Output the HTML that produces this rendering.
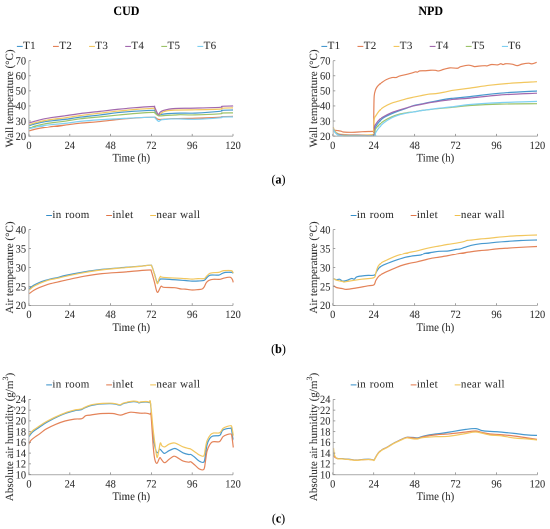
<!DOCTYPE html><html><head><meta charset="utf-8"><style>
html,body{margin:0;padding:0;background:#fff;width:550px;height:529px;overflow:hidden;position:relative}
#wrap{position:absolute;left:0;top:0;width:1100px;height:1058px;transform-origin:0 0;transform:scale(0.5);will-change:transform}
svg{display:block;filter:blur(0.5px)}
text{text-rendering:geometricPrecision}
text{font-family:"Liberation Serif", serif;fill:#303030;stroke:#303030;stroke-width:0.06px}
.tk{font-size:10.4px}
.lab{font-size:10.8px}
.ylab{font-size:11.05px}
.lg{font-size:11px;letter-spacing:0.3px;word-spacing:0.6px}
.ttl{font-size:12px;font-weight:bold;fill:#000}
.pl{font-size:12px;fill:#000}
</style></head><body>
<div id="wrap"><svg width="1100" height="1058" viewBox="0 0 550 529">
<rect width="550" height="529" fill="#fff"/>
<text transform="translate(126.40,14.80) scale(1,1.07)" text-anchor="middle" class="ttl">CUD</text>
<text transform="translate(430.70,14.80) scale(1,1.07)" text-anchor="middle" class="ttl">NPD</text>
<line x1="16.90" y1="46.40" x2="22.70" y2="46.40" stroke="#338eca" stroke-width="1"/>
<text transform="translate(23.10,48.90) scale(1,1.0)" class="lg">T1</text>
<line x1="53.00" y1="46.40" x2="58.80" y2="46.40" stroke="#e17547" stroke-width="1"/>
<text transform="translate(59.20,48.90) scale(1,1.0)" class="lg">T2</text>
<line x1="89.10" y1="46.40" x2="94.90" y2="46.40" stroke="#f1c14d" stroke-width="1"/>
<text transform="translate(95.30,48.90) scale(1,1.0)" class="lg">T3</text>
<line x1="125.20" y1="46.40" x2="131.00" y2="46.40" stroke="#9859a5" stroke-width="1"/>
<text transform="translate(131.40,48.90) scale(1,1.0)" class="lg">T4</text>
<line x1="161.30" y1="46.40" x2="167.10" y2="46.40" stroke="#92bd59" stroke-width="1"/>
<text transform="translate(167.50,48.90) scale(1,1.0)" class="lg">T5</text>
<line x1="197.40" y1="46.40" x2="203.20" y2="46.40" stroke="#71cbf1" stroke-width="1"/>
<text transform="translate(203.60,48.90) scale(1,1.0)" class="lg">T6</text>
<line x1="321.40" y1="46.40" x2="327.20" y2="46.40" stroke="#338eca" stroke-width="1"/>
<text transform="translate(327.60,48.90) scale(1,1.0)" class="lg">T1</text>
<line x1="357.50" y1="46.40" x2="363.30" y2="46.40" stroke="#e17547" stroke-width="1"/>
<text transform="translate(363.70,48.90) scale(1,1.0)" class="lg">T2</text>
<line x1="393.60" y1="46.40" x2="399.40" y2="46.40" stroke="#f1c14d" stroke-width="1"/>
<text transform="translate(399.80,48.90) scale(1,1.0)" class="lg">T3</text>
<line x1="429.70" y1="46.40" x2="435.50" y2="46.40" stroke="#9859a5" stroke-width="1"/>
<text transform="translate(435.90,48.90) scale(1,1.0)" class="lg">T4</text>
<line x1="465.80" y1="46.40" x2="471.60" y2="46.40" stroke="#92bd59" stroke-width="1"/>
<text transform="translate(472.00,48.90) scale(1,1.0)" class="lg">T5</text>
<line x1="501.90" y1="46.40" x2="507.70" y2="46.40" stroke="#71cbf1" stroke-width="1"/>
<text transform="translate(508.10,48.90) scale(1,1.0)" class="lg">T6</text>
<line x1="46.20" y1="215.50" x2="52.00" y2="215.50" stroke="#338eca" stroke-width="1"/>
<text transform="translate(52.40,218.00) scale(1,1.0)" class="lg">in room</text>
<line x1="106.20" y1="215.50" x2="112.00" y2="215.50" stroke="#e17547" stroke-width="1"/>
<text transform="translate(112.40,218.00) scale(1,1.0)" class="lg">inlet</text>
<line x1="150.20" y1="215.50" x2="156.00" y2="215.50" stroke="#f1c14d" stroke-width="1"/>
<text transform="translate(156.40,218.00) scale(1,1.0)" class="lg">near wall</text>
<line x1="350.70" y1="215.50" x2="356.50" y2="215.50" stroke="#338eca" stroke-width="1"/>
<text transform="translate(356.90,218.00) scale(1,1.0)" class="lg">in room</text>
<line x1="410.70" y1="215.50" x2="416.50" y2="215.50" stroke="#e17547" stroke-width="1"/>
<text transform="translate(416.90,218.00) scale(1,1.0)" class="lg">inlet</text>
<line x1="454.70" y1="215.50" x2="460.50" y2="215.50" stroke="#f1c14d" stroke-width="1"/>
<text transform="translate(460.90,218.00) scale(1,1.0)" class="lg">near wall</text>
<line x1="46.20" y1="384.90" x2="52.00" y2="384.90" stroke="#338eca" stroke-width="1"/>
<text transform="translate(52.40,387.40) scale(1,1.0)" class="lg">in room</text>
<line x1="106.20" y1="384.90" x2="112.00" y2="384.90" stroke="#e17547" stroke-width="1"/>
<text transform="translate(112.40,387.40) scale(1,1.0)" class="lg">inlet</text>
<line x1="150.20" y1="384.90" x2="156.00" y2="384.90" stroke="#f1c14d" stroke-width="1"/>
<text transform="translate(156.40,387.40) scale(1,1.0)" class="lg">near wall</text>
<line x1="350.70" y1="384.90" x2="356.50" y2="384.90" stroke="#338eca" stroke-width="1"/>
<text transform="translate(356.90,387.40) scale(1,1.0)" class="lg">in room</text>
<line x1="410.70" y1="384.90" x2="416.50" y2="384.90" stroke="#e17547" stroke-width="1"/>
<text transform="translate(416.90,387.40) scale(1,1.0)" class="lg">inlet</text>
<line x1="454.70" y1="384.90" x2="460.50" y2="384.90" stroke="#f1c14d" stroke-width="1"/>
<text transform="translate(460.90,387.40) scale(1,1.0)" class="lg">near wall</text>
<text transform="translate(13.20,98.40) scale(1,1.0) rotate(-90)" text-anchor="middle" class="ylab">Wall temperature (°C)</text>
<text transform="translate(317.20,98.40) scale(1,1.0) rotate(-90)" text-anchor="middle" class="ylab">Wall temperature (°C)</text>
<text transform="translate(13.20,267.50) scale(1,1.0) rotate(-90)" text-anchor="middle" class="ylab">Air temperature (°C)</text>
<text transform="translate(317.20,267.50) scale(1,1.0) rotate(-90)" text-anchor="middle" class="ylab">Air temperature (°C)</text>
<text transform="translate(13.20,437.00) scale(1,1.0) rotate(-90)" text-anchor="middle" class="ylab">Absolute air humidity (g/m<tspan dy="-5" font-size="8px">3</tspan><tspan dy="5">)</tspan></text>
<text transform="translate(317.20,437.00) scale(1,1.0) rotate(-90)" text-anchor="middle" class="ylab">Absolute air humidity (g/m<tspan dy="-5" font-size="8px">3</tspan><tspan dy="5">)</tspan></text>
<path d="M29.00,125.70 C30.17,125.37 33.33,124.37 36.00,123.70 C38.67,123.03 41.83,122.25 45.00,121.70 C48.17,121.15 51.67,120.78 55.00,120.40 C58.33,120.02 60.83,119.93 65.00,119.40 C69.17,118.87 74.17,117.94 80.00,117.20 C85.83,116.46 93.67,115.72 100.00,114.95 C106.33,114.18 112.17,113.20 118.00,112.58 C123.83,111.95 129.17,111.58 135.00,111.20 C140.83,110.82 149.75,110.40 153.00,110.30 C156.25,110.20 153.58,109.73 154.50,110.60 C155.42,111.47 157.58,114.82 158.50,115.50 C159.42,116.18 158.92,114.97 160.00,114.70 C161.08,114.43 163.33,114.10 165.00,113.90 C166.67,113.70 167.50,113.63 170.00,113.50 C172.50,113.37 175.83,113.17 180.00,113.10 C184.17,113.03 188.33,113.40 195.00,113.10 C201.67,112.80 215.50,111.77 220.00,111.30 C224.50,110.83 219.83,110.52 222.00,110.30 C224.17,110.08 231.17,110.05 233.00,110.00" fill="none" stroke="#4799cf" stroke-width="1.2" stroke-linejoin="round"/>
<path d="M29.00,130.90 C30.17,130.58 33.33,129.58 36.00,129.00 C38.67,128.42 41.83,127.87 45.00,127.40 C48.17,126.93 51.67,126.58 55.00,126.20 C58.33,125.82 60.83,125.60 65.00,125.10 C69.17,124.60 74.17,123.79 80.00,123.20 C85.83,122.61 93.67,122.17 100.00,121.55 C106.33,120.93 112.17,120.07 118.00,119.48 C123.83,118.89 129.17,118.38 135.00,118.00 C140.83,117.62 149.58,117.28 153.00,117.20 C156.42,117.12 154.83,117.23 155.50,117.50 C156.17,117.77 156.50,118.48 157.00,118.80 C157.50,119.12 157.83,119.30 158.50,119.40 C159.17,119.50 159.92,119.45 161.00,119.40 C162.08,119.35 162.67,119.23 165.00,119.10 C167.33,118.97 170.00,118.75 175.00,118.60 C180.00,118.45 187.50,118.43 195.00,118.20 C202.50,117.97 215.50,117.47 220.00,117.20 C224.50,116.93 219.83,116.73 222.00,116.60 C224.17,116.47 231.17,116.43 233.00,116.40" fill="none" stroke="#e48359" stroke-width="1.2" stroke-linejoin="round"/>
<path d="M29.00,124.70 C30.17,124.35 33.33,123.30 36.00,122.60 C38.67,121.90 41.83,121.10 45.00,120.50 C48.17,119.90 51.67,119.45 55.00,119.00 C58.33,118.55 60.83,118.37 65.00,117.80 C69.17,117.23 74.17,116.38 80.00,115.60 C85.83,114.82 93.67,113.90 100.00,113.15 C106.33,112.40 112.17,111.69 118.00,111.08 C123.83,110.47 129.17,109.96 135.00,109.50 C140.83,109.04 149.75,108.45 153.00,108.30 C156.25,108.15 153.58,107.57 154.50,108.60 C155.42,109.63 157.08,113.93 158.50,114.50 C159.92,115.07 161.42,112.65 163.00,112.00 C164.58,111.35 166.00,110.92 168.00,110.60 C170.00,110.28 170.50,110.23 175.00,110.10 C179.50,109.97 187.50,109.97 195.00,109.80 C202.50,109.63 215.50,109.37 220.00,109.10 C224.50,108.83 219.83,108.40 222.00,108.20 C224.17,108.00 231.17,107.95 233.00,107.90" fill="none" stroke="#f2c75e" stroke-width="1.2" stroke-linejoin="round"/>
<path d="M29.00,123.00 C30.17,122.65 33.33,121.62 36.00,120.90 C38.67,120.18 41.83,119.33 45.00,118.70 C48.17,118.07 51.67,117.58 55.00,117.10 C58.33,116.62 60.83,116.38 65.00,115.80 C69.17,115.22 74.17,114.34 80.00,113.60 C85.83,112.86 93.67,112.07 100.00,111.35 C106.33,110.63 112.17,109.89 118.00,109.28 C123.83,108.67 129.17,108.16 135.00,107.70 C140.83,107.24 149.75,106.62 153.00,106.50 C156.25,106.38 153.63,105.67 154.50,107.00 C155.37,108.33 157.28,113.62 158.20,114.50 C159.12,115.38 159.20,112.95 160.00,112.30 C160.80,111.65 161.67,111.10 163.00,110.60 C164.33,110.10 166.00,109.65 168.00,109.30 C170.00,108.95 170.50,108.70 175.00,108.50 C179.50,108.30 187.50,108.30 195.00,108.10 C202.50,107.90 215.50,107.60 220.00,107.30 C224.50,107.00 220.00,106.52 222.00,106.30 C224.00,106.08 230.17,106.07 232.00,106.00 C233.83,105.93 232.83,105.92 233.00,105.90" fill="none" stroke="#a269ae" stroke-width="1.2" stroke-linejoin="round"/>
<path d="M29.00,127.90 C30.17,127.55 33.33,126.48 36.00,125.80 C38.67,125.12 41.83,124.37 45.00,123.80 C48.17,123.23 51.67,122.83 55.00,122.40 C58.33,121.97 60.83,121.80 65.00,121.20 C69.17,120.60 74.17,119.53 80.00,118.80 C85.83,118.07 93.67,117.47 100.00,116.85 C106.33,116.23 112.17,115.64 118.00,115.08 C123.83,114.52 129.17,113.95 135.00,113.50 C140.83,113.05 149.75,112.53 153.00,112.40 C156.25,112.27 153.58,112.13 154.50,112.70 C155.42,113.27 156.75,115.33 158.50,115.80 C160.25,116.27 162.25,115.63 165.00,115.50 C167.75,115.37 172.50,115.13 175.00,115.00 C177.50,114.87 176.67,114.72 180.00,114.70 C183.33,114.68 188.33,115.05 195.00,114.90 C201.67,114.75 215.50,114.12 220.00,113.80 C224.50,113.48 219.83,113.15 222.00,113.00 C224.17,112.85 231.17,112.92 233.00,112.90" fill="none" stroke="#9dc36a" stroke-width="1.2" stroke-linejoin="round"/>
<path d="M29.00,128.80 C30.17,128.50 33.33,127.57 36.00,127.00 C38.67,126.43 41.83,125.85 45.00,125.40 C48.17,124.95 51.67,124.63 55.00,124.30 C58.33,123.97 60.83,123.88 65.00,123.40 C69.17,122.92 74.17,122.01 80.00,121.40 C85.83,120.79 93.67,120.19 100.00,119.75 C106.33,119.31 112.17,119.11 118.00,118.78 C123.83,118.45 129.17,118.06 135.00,117.80 C140.83,117.54 149.75,117.27 153.00,117.20 C156.25,117.13 153.58,116.72 154.50,117.40 C155.42,118.08 157.42,120.88 158.50,121.30 C159.58,121.72 159.92,120.22 161.00,119.90 C162.08,119.58 162.67,119.58 165.00,119.40 C167.33,119.22 170.00,118.82 175.00,118.80 C180.00,118.78 187.50,119.47 195.00,119.30 C202.50,119.13 215.50,118.18 220.00,117.80 C224.50,117.42 219.83,117.15 222.00,117.00 C224.17,116.85 231.17,116.92 233.00,116.90" fill="none" stroke="#7fd0f3" stroke-width="1.2" stroke-linejoin="round"/>
<path d="M333.50,129.20 C333.58,129.43 333.75,130.10 334.00,130.60 C334.25,131.10 334.67,131.75 335.00,132.20 C335.33,132.65 335.67,133.02 336.00,133.30 C336.33,133.58 336.67,133.70 337.00,133.90 C337.33,134.10 337.50,134.32 338.00,134.50 C338.50,134.68 339.33,134.87 340.00,135.00 C340.67,135.13 341.00,135.22 342.00,135.30 C343.00,135.38 343.00,135.47 346.00,135.50 C349.00,135.53 355.42,135.52 360.00,135.50 C364.58,135.48 371.08,136.42 373.50,135.40 C375.92,134.38 374.08,130.95 374.50,129.40 C374.92,127.85 375.12,127.48 376.00,126.10 C376.88,124.72 378.53,122.50 379.80,121.10 C381.07,119.70 381.70,118.90 383.60,117.70 C385.50,116.50 388.68,115.03 391.20,113.90 C393.72,112.77 396.18,111.83 398.70,110.90 C401.22,109.97 403.75,109.20 406.30,108.30 C408.85,107.40 411.50,106.22 414.00,105.50 C416.50,104.78 418.88,104.50 421.30,104.00 C423.72,103.50 426.08,102.98 428.50,102.50 C430.92,102.02 433.37,101.58 435.80,101.10 C438.23,100.62 440.67,100.03 443.10,99.60 C445.53,99.17 448.58,98.73 450.40,98.50 C452.22,98.27 450.73,98.52 454.00,98.20 C457.27,97.88 462.33,97.43 470.00,96.60 C477.67,95.77 488.83,94.13 500.00,93.20 C511.17,92.27 530.83,91.37 537.00,91.00" fill="none" stroke="#4799cf" stroke-width="1.2" stroke-linejoin="round"/>
<path d="M333.40,129.60 C333.63,129.70 334.03,130.03 334.80,130.20 C335.57,130.37 336.93,130.43 338.00,130.60 C339.07,130.77 340.33,130.97 341.20,131.20 C342.07,131.43 341.40,131.82 343.20,132.00 C345.00,132.18 348.75,132.35 352.00,132.30 C355.25,132.25 359.28,131.85 362.70,131.70 C366.12,131.55 370.68,131.50 372.50,131.40 C374.32,131.30 373.38,134.33 373.60,131.10 C373.82,127.87 373.70,117.85 373.80,112.00 C373.90,106.15 373.92,99.67 374.20,96.00 C374.48,92.33 375.03,91.50 375.50,90.00 C375.97,88.50 376.42,87.87 377.00,87.00 C377.58,86.13 378.27,85.50 379.00,84.80 C379.73,84.10 380.18,83.66 381.40,82.80 C382.62,81.94 384.53,80.50 386.30,79.63 C388.07,78.76 390.37,77.94 392.00,77.58 C393.63,77.22 394.87,77.75 396.10,77.50 C397.33,77.25 397.77,76.57 399.40,76.07 C401.03,75.57 403.72,75.07 405.90,74.52 C408.08,73.97 410.87,73.25 412.50,72.79 C414.13,72.34 414.88,71.89 415.70,71.79 C416.52,71.69 416.72,72.32 417.40,72.17 C418.08,72.02 418.43,71.13 419.80,70.89 C421.17,70.65 423.82,70.83 425.60,70.72 C427.38,70.61 428.87,70.29 430.50,70.22 C432.13,70.15 434.03,70.18 435.40,70.29 C436.77,70.41 437.33,71.06 438.70,70.91 C440.07,70.76 441.70,69.89 443.60,69.38 C445.50,68.87 447.80,68.03 450.10,67.84 C452.40,67.65 455.65,68.46 457.40,68.26 C459.15,68.06 458.70,67.19 460.60,66.67 C462.50,66.16 466.48,65.18 468.80,65.17 C471.12,65.16 472.87,66.44 474.50,66.60 C476.13,66.75 476.82,66.25 478.60,66.10 C480.38,65.95 483.83,65.74 485.20,65.71 C486.57,65.67 485.72,66.09 486.80,65.89 C487.88,65.69 489.92,64.69 491.70,64.52 C493.48,64.35 496.00,65.03 497.50,64.90 C499.00,64.77 499.75,63.82 500.70,63.76 C501.65,63.70 502.38,64.55 503.20,64.55 C504.02,64.55 504.10,63.79 505.60,63.73 C507.10,63.67 510.28,63.88 512.20,64.20 C514.12,64.52 515.47,65.67 517.10,65.65 C518.73,65.64 520.08,64.52 522.00,64.11 C523.92,63.70 526.97,63.25 528.60,63.20 C530.23,63.16 530.45,63.99 531.80,63.84 C533.15,63.69 535.88,62.56 536.70,62.30" fill="none" stroke="#e48359" stroke-width="1.2" stroke-linejoin="round"/>
<path d="M333.30,127.00 C333.42,127.38 333.72,128.63 334.00,129.30 C334.28,129.97 334.67,130.52 335.00,131.00 C335.33,131.48 335.67,131.87 336.00,132.20 C336.33,132.53 336.67,132.77 337.00,133.00 C337.33,133.23 337.50,133.42 338.00,133.60 C338.50,133.78 339.33,133.97 340.00,134.10 C340.67,134.23 341.00,134.32 342.00,134.40 C343.00,134.48 344.33,134.53 346.00,134.60 C347.67,134.67 347.58,134.80 352.00,134.80 C356.42,134.80 368.87,135.40 372.50,134.60 C376.13,133.80 373.50,132.60 373.80,130.00 C374.10,127.40 373.93,121.42 374.30,119.00 C374.67,116.58 375.08,116.97 376.00,115.50 C376.92,114.03 378.53,111.60 379.80,110.20 C381.07,108.80 381.70,108.25 383.60,107.10 C385.50,105.95 388.68,104.30 391.20,103.30 C393.72,102.30 396.18,101.85 398.70,101.10 C401.22,100.35 403.75,99.47 406.30,98.80 C408.85,98.13 411.50,97.63 414.00,97.10 C416.50,96.57 418.88,96.08 421.30,95.60 C423.72,95.12 426.08,94.53 428.50,94.20 C430.92,93.87 433.37,93.90 435.80,93.60 C438.23,93.30 440.67,92.87 443.10,92.40 C445.53,91.93 448.58,91.17 450.40,90.80 C452.22,90.43 450.73,90.65 454.00,90.20 C457.27,89.75 464.00,88.93 470.00,88.10 C476.00,87.27 483.33,86.00 490.00,85.20 C496.67,84.40 502.17,83.88 510.00,83.30 C517.83,82.72 532.50,81.97 537.00,81.70" fill="none" stroke="#f2c75e" stroke-width="1.2" stroke-linejoin="round"/>
<path d="M333.50,129.00 C333.58,129.23 333.75,129.90 334.00,130.40 C334.25,130.90 334.67,131.55 335.00,132.00 C335.33,132.45 335.67,132.83 336.00,133.10 C336.33,133.37 336.67,133.42 337.00,133.60 C337.33,133.78 337.50,134.02 338.00,134.20 C338.50,134.38 339.33,134.57 340.00,134.70 C340.67,134.83 341.00,134.92 342.00,135.00 C343.00,135.08 343.00,135.17 346.00,135.20 C349.00,135.23 355.42,135.22 360.00,135.20 C364.58,135.18 371.08,136.50 373.50,135.10 C375.92,133.70 374.08,128.68 374.50,126.80 C374.92,124.92 375.12,125.07 376.00,123.80 C376.88,122.53 378.53,120.40 379.80,119.20 C381.07,118.00 381.70,117.67 383.60,116.60 C385.50,115.53 388.68,113.87 391.20,112.80 C393.72,111.73 396.18,111.02 398.70,110.20 C401.22,109.38 403.75,108.63 406.30,107.90 C408.85,107.17 411.50,106.38 414.00,105.80 C416.50,105.22 418.88,104.88 421.30,104.40 C423.72,103.92 426.08,103.33 428.50,102.90 C430.92,102.47 433.37,102.17 435.80,101.80 C438.23,101.43 440.67,101.03 443.10,100.70 C445.53,100.37 448.58,100.03 450.40,99.80 C452.22,99.57 450.73,99.58 454.00,99.30 C457.27,99.02 462.33,98.82 470.00,98.10 C477.67,97.38 488.83,95.82 500.00,95.00 C511.17,94.18 530.83,93.50 537.00,93.20" fill="none" stroke="#a269ae" stroke-width="1.2" stroke-linejoin="round"/>
<path d="M333.50,129.20 C333.58,129.43 333.75,130.10 334.00,130.60 C334.25,131.10 334.67,131.75 335.00,132.20 C335.33,132.65 335.67,132.98 336.00,133.30 C336.33,133.62 336.67,133.91 337.00,134.15 C337.33,134.39 337.50,134.57 338.00,134.75 C338.50,134.93 339.33,135.12 340.00,135.25 C340.67,135.38 341.00,135.47 342.00,135.55 C343.00,135.63 343.00,135.72 346.00,135.75 C349.00,135.78 355.33,135.77 360.00,135.75 C364.67,135.73 371.50,136.44 374.00,135.65 C376.50,134.86 374.67,132.22 375.00,131.00 C375.33,129.78 375.20,129.43 376.00,128.30 C376.80,127.17 378.53,125.40 379.80,124.20 C381.07,123.00 381.70,122.30 383.60,121.10 C385.50,119.90 388.68,118.13 391.20,117.00 C393.72,115.87 396.18,115.00 398.70,114.30 C401.22,113.60 403.75,113.22 406.30,112.80 C408.85,112.38 411.50,112.18 414.00,111.80 C416.50,111.42 418.88,110.85 421.30,110.50 C423.72,110.15 426.08,109.98 428.50,109.70 C430.92,109.42 433.37,109.05 435.80,108.80 C438.23,108.55 440.67,108.42 443.10,108.20 C445.53,107.98 448.58,107.68 450.40,107.50 C452.22,107.32 450.73,107.43 454.00,107.10 C457.27,106.77 462.33,106.00 470.00,105.50 C477.67,105.00 488.83,104.40 500.00,104.10 C511.17,103.80 530.83,103.77 537.00,103.70" fill="none" stroke="#9dc36a" stroke-width="1.2" stroke-linejoin="round"/>
<path d="M333.50,129.40 C333.58,129.63 333.75,130.30 334.00,130.80 C334.25,131.30 334.67,131.95 335.00,132.40 C335.33,132.85 335.67,133.17 336.00,133.50 C336.33,133.83 336.67,134.15 337.00,134.40 C337.33,134.65 337.50,134.82 338.00,135.00 C338.50,135.18 339.33,135.37 340.00,135.50 C340.67,135.63 341.00,135.72 342.00,135.80 C343.00,135.88 343.00,135.97 346.00,136.00 C349.00,136.03 355.25,136.02 360.00,136.00 C364.75,135.98 371.97,136.15 374.50,135.90 C377.03,135.65 374.95,135.13 375.20,134.50 C375.45,133.87 375.23,133.38 376.00,132.10 C376.77,130.82 378.53,128.32 379.80,126.80 C381.07,125.28 381.70,124.45 383.60,123.00 C385.50,121.55 388.68,119.42 391.20,118.10 C393.72,116.78 396.18,115.92 398.70,115.10 C401.22,114.28 403.75,113.73 406.30,113.20 C408.85,112.67 411.50,112.33 414.00,111.90 C416.50,111.47 418.88,110.98 421.30,110.60 C423.72,110.22 426.08,109.93 428.50,109.60 C430.92,109.27 433.37,108.90 435.80,108.60 C438.23,108.30 440.67,108.07 443.10,107.80 C445.53,107.53 448.58,107.20 450.40,107.00 C452.22,106.80 450.73,107.02 454.00,106.60 C457.27,106.18 462.33,105.17 470.00,104.50 C477.67,103.83 488.83,103.12 500.00,102.60 C511.17,102.08 530.83,101.60 537.00,101.40" fill="none" stroke="#7fd0f3" stroke-width="1.2" stroke-linejoin="round"/>
<path d="M29.00,289.00 C29.12,288.87 28.92,288.82 29.70,288.20 C30.48,287.58 32.10,286.25 33.70,285.30 C35.30,284.35 37.42,283.30 39.30,282.50 C41.18,281.70 43.10,281.08 45.00,280.50 C46.90,279.92 48.53,279.52 50.70,279.00 C52.87,278.48 55.62,277.98 58.00,277.40 C60.38,276.82 60.72,276.40 65.00,275.50 C69.28,274.60 77.53,273.02 83.70,272.00 C89.87,270.98 95.12,270.17 102.00,269.40 C108.88,268.63 118.67,267.93 125.00,267.40 C131.33,266.87 135.83,266.57 140.00,266.20 C144.17,265.83 148.03,265.23 150.00,265.20 C151.97,265.17 151.05,264.53 151.80,266.00 C152.55,267.47 153.58,271.28 154.50,274.00 C155.42,276.72 156.38,281.38 157.30,282.30 C158.22,283.22 159.05,280.05 160.00,279.50 C160.95,278.95 158.83,278.83 163.00,279.00 C167.17,279.17 180.17,280.15 185.00,280.50 C189.83,280.85 189.83,281.02 192.00,281.10 C194.17,281.18 195.97,281.13 198.00,281.00 C200.03,280.87 202.70,280.88 204.20,280.30 C205.70,279.72 205.97,278.37 207.00,277.50 C208.03,276.63 208.45,275.50 210.40,275.10 C212.35,274.70 216.73,275.38 218.70,275.10 C220.67,274.82 221.05,273.85 222.20,273.40 C223.35,272.95 223.98,272.57 225.60,272.40 C227.22,272.23 230.63,272.23 231.90,272.40 C233.17,272.57 232.98,273.23 233.20,273.40" fill="none" stroke="#4799cf" stroke-width="1.2" stroke-linejoin="round"/>
<path d="M29.00,293.80 C29.12,293.72 28.92,293.87 29.70,293.30 C30.48,292.73 32.10,291.35 33.70,290.40 C35.30,289.45 37.42,288.43 39.30,287.60 C41.18,286.77 43.10,286.07 45.00,285.40 C46.90,284.73 48.53,284.18 50.70,283.60 C52.87,283.02 55.62,282.45 58.00,281.90 C60.38,281.35 60.72,281.23 65.00,280.30 C69.28,279.37 77.53,277.42 83.70,276.30 C89.87,275.18 95.12,274.32 102.00,273.60 C108.88,272.88 118.67,272.50 125.00,272.00 C131.33,271.50 135.83,270.93 140.00,270.60 C144.17,270.27 148.10,269.87 150.00,270.00 C151.90,270.13 150.65,269.35 151.40,271.40 C152.15,273.45 153.52,278.82 154.50,282.30 C155.48,285.78 156.22,291.62 157.30,292.30 C158.38,292.98 159.95,287.23 161.00,286.40 C162.05,285.57 161.35,287.08 163.60,287.30 C165.85,287.52 171.60,287.42 174.50,287.70 C177.40,287.98 179.25,288.77 181.00,289.00 C182.75,289.23 183.17,288.93 185.00,289.10 C186.83,289.27 189.83,289.92 192.00,290.00 C194.17,290.08 196.32,289.77 198.00,289.60 C199.68,289.43 201.07,289.45 202.10,289.00 C203.13,288.55 203.50,287.95 204.20,286.90 C204.90,285.85 205.48,283.80 206.30,282.70 C207.12,281.60 207.95,280.87 209.10,280.30 C210.25,279.73 211.37,279.47 213.20,279.30 C215.03,279.13 218.37,279.48 220.10,279.30 C221.83,279.12 222.10,278.55 223.60,278.20 C225.10,277.85 227.83,277.27 229.10,277.20 C230.37,277.13 230.62,277.33 231.20,277.80 C231.78,278.27 232.27,279.23 232.60,280.00 C232.93,280.77 233.10,282.00 233.20,282.40" fill="none" stroke="#e48359" stroke-width="1.2" stroke-linejoin="round"/>
<path d="M29.00,290.30 C29.12,290.18 28.92,290.25 29.70,289.60 C30.48,288.95 32.10,287.40 33.70,286.40 C35.30,285.40 37.42,284.45 39.30,283.60 C41.18,282.75 43.10,281.97 45.00,281.30 C46.90,280.63 48.53,280.12 50.70,279.60 C52.87,279.08 55.62,278.73 58.00,278.20 C60.38,277.67 60.72,277.32 65.00,276.40 C69.28,275.48 77.53,273.78 83.70,272.70 C89.87,271.62 95.12,270.73 102.00,269.90 C108.88,269.07 118.67,268.28 125.00,267.70 C131.33,267.12 135.83,266.82 140.00,266.40 C144.17,265.98 148.03,265.20 150.00,265.20 C151.97,265.20 151.05,264.85 151.80,266.40 C152.55,267.95 153.58,271.63 154.50,274.50 C155.42,277.37 156.55,282.85 157.30,283.60 C158.05,284.35 158.47,280.20 159.00,279.00 C159.53,277.80 159.83,276.68 160.50,276.40 C161.17,276.12 158.92,276.93 163.00,277.30 C167.08,277.67 180.17,278.30 185.00,278.60 C189.83,278.90 189.83,279.10 192.00,279.10 C194.17,279.10 195.97,278.68 198.00,278.60 C200.03,278.52 202.82,278.95 204.20,278.60 C205.58,278.25 205.38,277.37 206.30,276.50 C207.22,275.63 208.55,274.03 209.70,273.40 C210.85,272.77 211.70,272.87 213.20,272.70 C214.70,272.53 217.32,272.63 218.70,272.40 C220.08,272.17 220.57,271.60 221.50,271.30 C222.43,271.00 222.68,270.72 224.30,270.60 C225.92,270.48 229.82,270.42 231.20,270.60 C232.58,270.78 232.27,271.30 232.60,271.70 C232.93,272.10 233.10,272.78 233.20,273.00" fill="none" stroke="#f2c75e" stroke-width="1.2" stroke-linejoin="round"/>
<path d="M333.50,278.50 C333.98,278.72 335.40,279.68 336.40,279.80 C337.40,279.92 338.45,278.98 339.50,279.20 C340.55,279.42 341.53,280.88 342.70,281.10 C343.87,281.32 345.02,280.93 346.50,280.50 C347.98,280.07 350.32,278.72 351.60,278.50 C352.88,278.28 353.35,279.47 354.20,279.20 C355.05,278.93 355.43,277.43 356.70,276.90 C357.97,276.37 359.88,276.25 361.80,276.00 C363.72,275.75 366.08,275.55 368.20,275.40 C370.32,275.25 373.08,275.78 374.50,275.10 C375.92,274.42 375.85,272.60 376.70,271.30 C377.55,270.00 378.50,268.33 379.60,267.30 C380.70,266.27 381.48,265.95 383.30,265.10 C385.12,264.25 388.08,263.12 390.50,262.20 C392.92,261.28 395.37,260.42 397.80,259.60 C400.23,258.78 402.90,257.87 405.10,257.30 C407.30,256.73 408.97,256.52 411.00,256.20 C413.03,255.88 415.65,255.62 417.30,255.40 C418.95,255.18 419.70,255.22 420.90,254.90 C422.10,254.58 422.68,253.92 424.50,253.50 C426.32,253.08 429.37,252.77 431.80,252.40 C434.23,252.03 436.40,251.53 439.10,251.30 C441.80,251.07 445.18,251.32 448.00,251.00 C450.82,250.68 454.00,249.73 456.00,249.40 C458.00,249.07 458.67,249.30 460.00,249.00 C461.33,248.70 462.00,248.23 464.00,247.60 C466.00,246.97 469.33,245.83 472.00,245.20 C474.67,244.57 477.33,244.13 480.00,243.80 C482.67,243.47 485.42,243.45 488.00,243.20 C490.58,242.95 492.13,242.60 495.50,242.30 C498.87,242.00 503.97,241.70 508.20,241.40 C512.43,241.10 516.10,240.73 520.90,240.50 C525.70,240.27 534.32,240.08 537.00,240.00" fill="none" stroke="#4799cf" stroke-width="1.2" stroke-linejoin="round"/>
<path d="M333.50,285.50 C333.98,285.83 334.87,286.97 336.40,287.50 C337.93,288.03 341.02,288.38 342.70,288.70 C344.38,289.02 344.37,289.50 346.50,289.40 C348.63,289.30 351.88,288.70 355.50,288.10 C359.12,287.50 365.13,286.33 368.20,285.80 C371.27,285.27 372.63,285.78 373.90,284.90 C375.17,284.02 375.05,281.88 375.80,280.50 C376.55,279.12 377.52,277.60 378.40,276.60 C379.28,275.60 379.68,275.33 381.10,274.50 C382.52,273.67 384.72,272.62 386.90,271.60 C389.08,270.58 391.77,269.42 394.20,268.40 C396.63,267.38 399.08,266.32 401.50,265.50 C403.92,264.68 406.07,264.12 408.70,263.50 C411.33,262.88 414.67,262.38 417.30,261.80 C419.93,261.22 422.08,260.60 424.50,260.00 C426.92,259.40 429.37,258.68 431.80,258.20 C434.23,257.72 436.40,257.53 439.10,257.10 C441.80,256.67 445.18,256.12 448.00,255.60 C450.82,255.08 453.33,254.47 456.00,254.00 C458.67,253.53 461.33,253.20 464.00,252.80 C466.67,252.40 469.33,251.97 472.00,251.60 C474.67,251.23 477.33,250.87 480.00,250.60 C482.67,250.33 485.42,250.27 488.00,250.00 C490.58,249.73 492.13,249.32 495.50,249.00 C498.87,248.68 503.97,248.38 508.20,248.10 C512.43,247.82 516.10,247.57 520.90,247.30 C525.70,247.03 534.32,246.63 537.00,246.50" fill="none" stroke="#e48359" stroke-width="1.2" stroke-linejoin="round"/>
<path d="M333.50,278.50 C333.98,278.78 334.87,279.70 336.40,280.20 C337.93,280.70 341.43,281.20 342.70,281.50 C343.97,281.80 342.93,282.07 344.00,282.00 C345.07,281.93 346.13,281.57 349.10,281.10 C352.07,280.63 357.67,279.77 361.80,279.20 C365.93,278.63 371.57,278.77 373.90,277.70 C376.23,276.63 375.08,274.72 375.80,272.80 C376.52,270.88 377.20,267.92 378.20,266.20 C379.20,264.48 380.35,263.53 381.80,262.50 C383.25,261.47 384.83,260.97 386.90,260.00 C388.97,259.03 391.77,257.67 394.20,256.70 C396.63,255.73 399.08,254.88 401.50,254.20 C403.92,253.52 406.07,253.17 408.70,252.60 C411.33,252.03 414.67,251.42 417.30,250.80 C419.93,250.18 422.08,249.48 424.50,248.90 C426.92,248.32 429.37,247.78 431.80,247.30 C434.23,246.82 436.40,246.48 439.10,246.00 C441.80,245.52 445.18,244.87 448.00,244.40 C450.82,243.93 453.33,243.67 456.00,243.20 C458.67,242.73 462.13,242.07 464.00,241.60 C465.87,241.13 465.87,240.67 467.20,240.40 C468.53,240.13 469.87,240.23 472.00,240.00 C474.13,239.77 477.33,239.27 480.00,239.00 C482.67,238.73 485.42,238.65 488.00,238.40 C490.58,238.15 492.13,237.85 495.50,237.50 C498.87,237.15 503.97,236.62 508.20,236.30 C512.43,235.98 516.10,235.82 520.90,235.60 C525.70,235.38 534.32,235.10 537.00,235.00" fill="none" stroke="#f2c75e" stroke-width="1.2" stroke-linejoin="round"/>
<path d="M29.00,436.70 C29.30,436.25 30.03,434.92 30.80,434.00 C31.57,433.08 32.23,432.28 33.60,431.20 C34.97,430.12 37.43,428.58 39.00,427.50 C40.57,426.42 41.75,425.53 43.00,424.70 C44.25,423.87 44.37,423.68 46.50,422.50 C48.63,421.32 52.72,419.08 55.80,417.60 C58.88,416.12 61.90,414.73 65.00,413.60 C68.10,412.47 72.23,411.37 74.40,410.80 C76.57,410.23 76.77,410.42 78.00,410.20 C79.23,409.98 80.85,409.80 81.80,409.50 C82.75,409.20 82.33,409.02 83.70,408.40 C85.07,407.78 87.88,406.45 90.00,405.80 C92.12,405.15 94.28,404.82 96.40,404.50 C98.52,404.18 100.37,404.03 102.70,403.90 C105.03,403.77 108.27,403.65 110.40,403.70 C112.53,403.75 113.92,403.95 115.50,404.20 C117.08,404.45 118.63,405.28 119.90,405.20 C121.17,405.12 121.72,404.17 123.10,403.70 C124.48,403.23 126.50,402.75 128.20,402.40 C129.90,402.05 131.82,401.67 133.30,401.60 C134.78,401.53 136.15,401.78 137.10,402.00 C138.05,402.22 138.37,402.83 139.00,402.90 C139.63,402.97 139.73,402.55 140.90,402.40 C142.07,402.25 144.62,401.97 146.00,402.00 C147.38,402.03 148.45,402.38 149.20,402.60 C149.95,402.82 149.93,398.73 150.50,403.30 C151.07,407.87 151.88,422.82 152.60,430.00 C153.32,437.18 154.15,442.77 154.80,446.40 C155.45,450.03 155.95,450.80 156.50,451.80 C157.05,452.80 157.57,452.85 158.10,452.40 C158.63,451.95 158.98,449.20 159.70,449.10 C160.42,449.00 161.58,451.08 162.40,451.80 C163.22,452.52 163.50,453.58 164.60,453.40 C165.70,453.22 167.37,451.52 169.00,450.70 C170.63,449.88 172.95,448.68 174.40,448.50 C175.85,448.32 176.23,448.87 177.70,449.60 C179.17,450.33 181.38,452.08 183.20,452.90 C185.02,453.72 187.33,454.23 188.60,454.50 C189.87,454.77 189.88,454.13 190.80,454.50 C191.72,454.87 192.70,455.60 194.10,456.70 C195.50,457.80 197.58,460.20 199.20,461.10 C200.82,462.00 202.77,463.07 203.80,462.10 C204.83,461.13 204.87,458.15 205.40,455.30 C205.93,452.45 206.30,447.77 207.00,445.00 C207.70,442.23 208.65,440.18 209.60,438.70 C210.55,437.22 211.15,436.62 212.70,436.10 C214.25,435.58 217.60,435.85 218.90,435.60 C220.20,435.35 219.90,435.47 220.50,434.60 C221.10,433.73 221.55,431.37 222.50,430.40 C223.45,429.43 224.90,429.15 226.20,428.80 C227.50,428.45 229.43,428.30 230.30,428.30 C231.17,428.30 230.97,427.07 231.40,428.80 C231.83,430.53 232.58,436.97 232.90,438.70 C233.22,440.43 233.23,439.12 233.30,439.20" fill="none" stroke="#4799cf" stroke-width="1.2" stroke-linejoin="round"/>
<path d="M29.00,444.20 C29.30,443.58 29.73,441.75 30.80,440.50 C31.87,439.25 34.03,437.73 35.40,436.70 C36.77,435.67 37.73,435.22 39.00,434.30 C40.27,433.38 41.75,432.12 43.00,431.20 C44.25,430.28 44.37,429.95 46.50,428.80 C48.63,427.65 52.72,425.60 55.80,424.30 C58.88,423.00 61.90,421.87 65.00,421.00 C68.10,420.13 71.60,419.48 74.40,419.10 C77.20,418.72 79.95,419.25 81.80,418.70 C83.65,418.15 84.13,416.40 85.50,415.80 C86.87,415.20 88.18,415.38 90.00,415.10 C91.82,414.82 94.28,414.37 96.40,414.10 C98.52,413.83 99.95,413.60 102.70,413.50 C105.45,413.40 109.93,413.23 112.90,413.50 C115.87,413.77 118.38,415.10 120.50,415.10 C122.62,415.10 123.90,413.98 125.60,413.50 C127.30,413.02 129.00,412.35 130.70,412.20 C132.40,412.05 134.10,412.43 135.80,412.60 C137.50,412.77 139.20,413.10 140.90,413.20 C142.60,413.30 144.52,413.05 146.00,413.20 C147.48,413.35 148.95,413.63 149.80,414.10 C150.65,414.57 150.53,410.62 151.10,416.00 C151.67,421.38 152.58,439.17 153.20,446.40 C153.82,453.63 154.17,456.58 154.80,459.40 C155.43,462.22 156.18,463.57 157.00,463.30 C157.82,463.03 158.97,458.45 159.70,457.80 C160.43,457.15 160.58,458.58 161.40,459.40 C162.22,460.22 163.33,462.70 164.60,462.70 C165.87,462.70 167.45,460.48 169.00,459.40 C170.55,458.32 172.45,456.47 173.90,456.20 C175.35,455.93 176.15,456.98 177.70,457.80 C179.25,458.62 181.38,460.37 183.20,461.10 C185.02,461.83 187.33,462.08 188.60,462.20 C189.87,462.32 189.73,461.30 190.80,461.80 C191.87,462.30 193.60,464.02 195.00,465.20 C196.40,466.38 197.73,468.20 199.20,468.90 C200.67,469.60 202.77,470.62 203.80,469.40 C204.83,468.18 204.87,464.63 205.40,461.60 C205.93,458.57 206.30,453.98 207.00,451.20 C207.70,448.42 208.65,446.47 209.60,444.90 C210.55,443.33 211.15,442.32 212.70,441.80 C214.25,441.28 217.52,442.13 218.90,441.80 C220.28,441.47 220.30,440.67 221.00,439.80 C221.70,438.93 222.07,437.47 223.10,436.60 C224.13,435.73 225.90,435.03 227.20,434.60 C228.50,434.17 230.12,433.67 230.90,434.00 C231.68,434.33 231.50,434.35 231.90,436.60 C232.30,438.85 233.07,445.68 233.30,447.50" fill="none" stroke="#e48359" stroke-width="1.2" stroke-linejoin="round"/>
<path d="M29.00,435.20 C29.30,434.77 30.03,433.48 30.80,432.60 C31.57,431.72 32.23,430.95 33.60,429.90 C34.97,428.85 37.43,427.35 39.00,426.30 C40.57,425.25 41.75,424.40 43.00,423.60 C44.25,422.80 44.37,422.63 46.50,421.50 C48.63,420.37 52.72,418.23 55.80,416.80 C58.88,415.37 61.90,414.02 65.00,412.90 C68.10,411.78 72.23,410.67 74.40,410.10 C76.57,409.53 76.77,409.72 78.00,409.50 C79.23,409.28 80.85,409.08 81.80,408.80 C82.75,408.52 82.33,408.40 83.70,407.80 C85.07,407.20 87.88,405.83 90.00,405.20 C92.12,404.57 94.28,404.30 96.40,404.00 C98.52,403.70 100.37,403.53 102.70,403.40 C105.03,403.27 108.27,403.15 110.40,403.20 C112.53,403.25 113.92,403.45 115.50,403.70 C117.08,403.95 118.63,404.78 119.90,404.70 C121.17,404.62 121.72,403.67 123.10,403.20 C124.48,402.73 126.50,402.25 128.20,401.90 C129.90,401.55 131.82,401.17 133.30,401.10 C134.78,401.03 136.15,401.28 137.10,401.50 C138.05,401.72 138.37,402.33 139.00,402.40 C139.63,402.47 139.73,402.05 140.90,401.90 C142.07,401.75 144.62,401.47 146.00,401.50 C147.38,401.53 148.45,401.88 149.20,402.10 C149.95,402.32 149.83,398.15 150.50,402.80 C151.17,407.45 152.38,422.55 153.20,430.00 C154.02,437.45 154.77,442.95 155.40,447.50 C156.03,452.05 156.47,456.58 157.00,457.30 C157.53,458.02 158.05,454.17 158.60,451.80 C159.15,449.43 159.75,444.10 160.30,443.10 C160.85,442.10 161.18,445.17 161.90,445.80 C162.62,446.43 163.42,447.17 164.60,446.90 C165.78,446.63 167.45,444.87 169.00,444.20 C170.55,443.53 172.45,442.90 173.90,442.90 C175.35,442.90 176.15,443.53 177.70,444.20 C179.25,444.87 181.38,446.18 183.20,446.90 C185.02,447.62 187.33,448.13 188.60,448.50 C189.87,448.87 189.52,448.37 190.80,449.10 C192.08,449.83 194.85,451.90 196.30,452.90 C197.75,453.90 198.25,454.60 199.50,455.10 C200.75,455.60 202.82,457.07 203.80,455.90 C204.78,454.73 204.87,450.62 205.40,448.10 C205.93,445.58 206.13,443.05 207.00,440.80 C207.87,438.55 209.48,435.90 210.60,434.60 C211.72,433.30 212.32,433.27 213.70,433.00 C215.08,432.73 217.68,433.27 218.90,433.00 C220.12,432.73 220.30,432.18 221.00,431.40 C221.70,430.62 222.07,429.13 223.10,428.30 C224.13,427.47 225.90,426.83 227.20,426.40 C228.50,425.97 230.12,425.55 230.90,425.70 C231.68,425.85 231.50,425.65 231.90,427.30 C232.30,428.95 233.07,434.22 233.30,435.60" fill="none" stroke="#f2c75e" stroke-width="1.2" stroke-linejoin="round"/>
<path d="M333.50,454.00 C333.75,454.50 334.25,456.23 335.00,457.00 C335.75,457.77 336.83,458.33 338.00,458.60 C339.17,458.87 340.00,458.47 342.00,458.60 C344.00,458.73 347.67,459.17 350.00,459.40 C352.33,459.63 353.67,460.00 356.00,460.00 C358.33,460.00 361.67,459.52 364.00,459.40 C366.33,459.28 368.40,459.20 370.00,459.30 C371.60,459.40 372.90,459.92 373.60,460.00 C374.30,460.08 373.62,460.68 374.20,459.80 C374.78,458.92 376.25,456.03 377.10,454.70 C377.95,453.37 378.45,452.65 379.30,451.80 C380.15,450.95 381.00,450.32 382.20,449.60 C383.40,448.88 385.17,448.22 386.50,447.50 C387.83,446.78 388.98,446.03 390.20,445.30 C391.42,444.57 392.58,443.77 393.80,443.10 C395.02,442.43 396.28,441.90 397.50,441.30 C398.72,440.70 399.90,440.07 401.10,439.50 C402.30,438.93 403.73,438.27 404.70,437.90 C405.67,437.53 406.38,437.42 406.90,437.30 C407.42,437.18 406.68,437.17 407.80,437.20 C408.92,437.23 411.90,437.40 413.60,437.50 C415.30,437.60 416.53,437.98 418.00,437.80 C419.47,437.62 420.70,436.85 422.40,436.40 C424.10,435.95 426.02,435.50 428.20,435.10 C430.38,434.70 433.08,434.33 435.50,434.00 C437.92,433.67 440.28,433.43 442.70,433.10 C445.12,432.77 446.12,432.62 450.00,432.00 C453.88,431.38 461.67,429.97 466.00,429.40 C470.33,428.83 473.33,428.40 476.00,428.60 C478.67,428.80 479.67,430.13 482.00,430.60 C484.33,431.07 487.00,431.17 490.00,431.40 C493.00,431.63 496.00,431.67 500.00,432.00 C504.00,432.33 509.33,432.90 514.00,433.40 C518.67,433.90 524.17,434.67 528.00,435.00 C531.83,435.33 535.50,435.33 537.00,435.40" fill="none" stroke="#4799cf" stroke-width="1.2" stroke-linejoin="round"/>
<path d="M333.50,456.00 C333.75,456.23 334.25,456.93 335.00,457.40 C335.75,457.87 336.83,458.57 338.00,458.80 C339.17,459.03 340.00,458.67 342.00,458.80 C344.00,458.93 347.67,459.37 350.00,459.60 C352.33,459.83 353.67,460.20 356.00,460.20 C358.33,460.20 361.67,459.72 364.00,459.60 C366.33,459.48 368.40,459.40 370.00,459.50 C371.60,459.60 372.90,460.12 373.60,460.20 C374.30,460.27 373.62,460.84 374.20,459.95 C374.78,459.06 376.25,456.18 377.10,454.85 C377.95,453.52 378.45,452.80 379.30,451.95 C380.15,451.10 381.00,450.47 382.20,449.75 C383.40,449.03 385.17,448.37 386.50,447.65 C387.83,446.93 388.98,446.18 390.20,445.45 C391.42,444.72 392.58,443.92 393.80,443.25 C395.02,442.58 396.28,442.04 397.50,441.45 C398.72,440.86 399.90,440.29 401.10,439.73 C402.30,439.18 403.73,438.49 404.70,438.12 C405.67,437.75 406.38,437.65 406.90,437.53 C407.42,437.41 406.68,437.32 407.80,437.40 C408.92,437.48 411.90,437.83 413.60,438.00 C415.30,438.17 416.53,438.57 418.00,438.40 C419.47,438.23 420.70,437.43 422.40,437.00 C424.10,436.57 426.02,436.15 428.20,435.80 C430.38,435.45 433.08,435.15 435.50,434.90 C437.92,434.65 440.28,434.48 442.70,434.30 C445.12,434.12 446.12,434.18 450.00,433.80 C453.88,433.42 461.67,432.47 466.00,432.00 C470.33,431.53 473.33,430.92 476.00,431.00 C478.67,431.08 479.67,432.00 482.00,432.50 C484.33,433.00 487.00,433.65 490.00,434.00 C493.00,434.35 496.00,434.27 500.00,434.60 C504.00,434.93 509.33,435.43 514.00,436.00 C518.67,436.57 524.17,437.43 528.00,438.00 C531.83,438.57 535.50,439.17 537.00,439.40" fill="none" stroke="#e48359" stroke-width="1.2" stroke-linejoin="round"/>
<path d="M333.50,448.00 C333.67,449.17 334.08,453.40 334.50,455.00 C334.92,456.60 335.42,456.97 336.00,457.60 C336.58,458.23 337.00,458.58 338.00,458.80 C339.00,459.02 340.00,458.75 342.00,458.90 C344.00,459.05 347.67,459.47 350.00,459.70 C352.33,459.93 353.67,460.30 356.00,460.30 C358.33,460.30 361.67,459.82 364.00,459.70 C366.33,459.58 368.40,459.50 370.00,459.60 C371.60,459.70 372.90,460.21 373.60,460.30 C374.30,460.39 373.62,461.02 374.20,460.15 C374.78,459.27 376.25,456.38 377.10,455.05 C377.95,453.72 378.45,453.00 379.30,452.15 C380.15,451.30 381.00,450.67 382.20,449.95 C383.40,449.23 385.17,448.57 386.50,447.85 C387.83,447.13 388.98,446.38 390.20,445.65 C391.42,444.92 392.58,444.12 393.80,443.45 C395.02,442.78 396.28,442.22 397.50,441.65 C398.72,441.08 399.90,440.56 401.10,440.02 C402.30,439.48 403.73,438.79 404.70,438.42 C405.67,438.05 406.38,437.91 406.90,437.82 C407.42,437.73 406.68,437.72 407.80,437.90 C408.92,438.08 411.90,438.73 413.60,438.90 C415.30,439.07 416.53,439.10 418.00,438.90 C419.47,438.70 419.48,438.07 422.40,437.70 C425.32,437.33 431.15,436.93 435.50,436.70 C439.85,436.47 443.42,436.83 448.50,436.30 C453.58,435.77 461.42,434.22 466.00,433.50 C470.58,432.78 472.00,431.75 476.00,432.00 C480.00,432.25 486.00,434.40 490.00,435.00 C494.00,435.60 496.00,435.10 500.00,435.60 C504.00,436.10 509.33,437.43 514.00,438.00 C518.67,438.57 524.17,438.67 528.00,439.00 C531.83,439.33 535.50,439.83 537.00,440.00" fill="none" stroke="#f2c75e" stroke-width="1.2" stroke-linejoin="round"/>
<path d="M28.85,60.70 L28.85,136.20 L233.00,136.20" fill="none" stroke="#b4b4b4" stroke-width="1.05"/>
<line x1="28.85" y1="136.10" x2="30.95" y2="136.10" stroke="#8a8a8a" stroke-width="0.8"/>
<text transform="translate(26.05,139.90) scale(1,1.07)" text-anchor="end" class="tk">20</text>
<line x1="28.85" y1="121.02" x2="30.95" y2="121.02" stroke="#8a8a8a" stroke-width="0.8"/>
<text transform="translate(26.05,124.82) scale(1,1.07)" text-anchor="end" class="tk">30</text>
<line x1="28.85" y1="105.94" x2="30.95" y2="105.94" stroke="#8a8a8a" stroke-width="0.8"/>
<text transform="translate(26.05,109.74) scale(1,1.07)" text-anchor="end" class="tk">40</text>
<line x1="28.85" y1="90.86" x2="30.95" y2="90.86" stroke="#8a8a8a" stroke-width="0.8"/>
<text transform="translate(26.05,94.66) scale(1,1.07)" text-anchor="end" class="tk">50</text>
<line x1="28.85" y1="75.78" x2="30.95" y2="75.78" stroke="#8a8a8a" stroke-width="0.8"/>
<text transform="translate(26.05,79.58) scale(1,1.07)" text-anchor="end" class="tk">60</text>
<line x1="28.85" y1="60.70" x2="30.95" y2="60.70" stroke="#8a8a8a" stroke-width="0.8"/>
<text transform="translate(26.05,64.50) scale(1,1.07)" text-anchor="end" class="tk">70</text>
<line x1="29.00" y1="136.10" x2="29.00" y2="133.90" stroke="#8a8a8a" stroke-width="0.8"/>
<text transform="translate(29.00,148.90) scale(1,1.07)" text-anchor="middle" class="tk">0</text>
<line x1="69.80" y1="136.10" x2="69.80" y2="133.90" stroke="#8a8a8a" stroke-width="0.8"/>
<text transform="translate(69.80,148.90) scale(1,1.07)" text-anchor="middle" class="tk">24</text>
<line x1="110.60" y1="136.10" x2="110.60" y2="133.90" stroke="#8a8a8a" stroke-width="0.8"/>
<text transform="translate(110.60,148.90) scale(1,1.07)" text-anchor="middle" class="tk">48</text>
<line x1="151.40" y1="136.10" x2="151.40" y2="133.90" stroke="#8a8a8a" stroke-width="0.8"/>
<text transform="translate(151.40,148.90) scale(1,1.07)" text-anchor="middle" class="tk">72</text>
<line x1="192.20" y1="136.10" x2="192.20" y2="133.90" stroke="#8a8a8a" stroke-width="0.8"/>
<text transform="translate(192.20,148.90) scale(1,1.07)" text-anchor="middle" class="tk">96</text>
<line x1="233.00" y1="136.10" x2="233.00" y2="133.90" stroke="#8a8a8a" stroke-width="0.8"/>
<text transform="translate(233.00,148.90) scale(1,1.07)" text-anchor="middle" class="tk">120</text>
<text transform="translate(131.30,161.50) scale(1,1.07)" text-anchor="middle" class="lab">Time (h)</text>
<path d="M333.20,60.70 L333.20,136.20 L537.45,136.20" fill="none" stroke="#b4b4b4" stroke-width="1.05"/>
<line x1="333.20" y1="136.10" x2="335.30" y2="136.10" stroke="#8a8a8a" stroke-width="0.8"/>
<text transform="translate(330.40,139.90) scale(1,1.07)" text-anchor="end" class="tk">20</text>
<line x1="333.20" y1="121.02" x2="335.30" y2="121.02" stroke="#8a8a8a" stroke-width="0.8"/>
<text transform="translate(330.40,124.82) scale(1,1.07)" text-anchor="end" class="tk">30</text>
<line x1="333.20" y1="105.94" x2="335.30" y2="105.94" stroke="#8a8a8a" stroke-width="0.8"/>
<text transform="translate(330.40,109.74) scale(1,1.07)" text-anchor="end" class="tk">40</text>
<line x1="333.20" y1="90.86" x2="335.30" y2="90.86" stroke="#8a8a8a" stroke-width="0.8"/>
<text transform="translate(330.40,94.66) scale(1,1.07)" text-anchor="end" class="tk">50</text>
<line x1="333.20" y1="75.78" x2="335.30" y2="75.78" stroke="#8a8a8a" stroke-width="0.8"/>
<text transform="translate(330.40,79.58) scale(1,1.07)" text-anchor="end" class="tk">60</text>
<line x1="333.20" y1="60.70" x2="335.30" y2="60.70" stroke="#8a8a8a" stroke-width="0.8"/>
<text transform="translate(330.40,64.50) scale(1,1.07)" text-anchor="end" class="tk">70</text>
<line x1="332.75" y1="136.10" x2="332.75" y2="133.90" stroke="#8a8a8a" stroke-width="0.8"/>
<text transform="translate(332.75,148.90) scale(1,1.07)" text-anchor="middle" class="tk">0</text>
<line x1="373.69" y1="136.10" x2="373.69" y2="133.90" stroke="#8a8a8a" stroke-width="0.8"/>
<text transform="translate(373.69,148.90) scale(1,1.07)" text-anchor="middle" class="tk">24</text>
<line x1="414.63" y1="136.10" x2="414.63" y2="133.90" stroke="#8a8a8a" stroke-width="0.8"/>
<text transform="translate(414.63,148.90) scale(1,1.07)" text-anchor="middle" class="tk">48</text>
<line x1="455.57" y1="136.10" x2="455.57" y2="133.90" stroke="#8a8a8a" stroke-width="0.8"/>
<text transform="translate(455.57,148.90) scale(1,1.07)" text-anchor="middle" class="tk">72</text>
<line x1="496.51" y1="136.10" x2="496.51" y2="133.90" stroke="#8a8a8a" stroke-width="0.8"/>
<text transform="translate(496.51,148.90) scale(1,1.07)" text-anchor="middle" class="tk">96</text>
<line x1="537.45" y1="136.10" x2="537.45" y2="133.90" stroke="#8a8a8a" stroke-width="0.8"/>
<text transform="translate(537.45,148.90) scale(1,1.07)" text-anchor="middle" class="tk">120</text>
<text transform="translate(435.40,161.50) scale(1,1.07)" text-anchor="middle" class="lab">Time (h)</text>
<path d="M28.85,229.60 L28.85,305.50 L233.00,305.50" fill="none" stroke="#b4b4b4" stroke-width="1.05"/>
<line x1="28.85" y1="305.40" x2="30.95" y2="305.40" stroke="#8a8a8a" stroke-width="0.8"/>
<text transform="translate(26.05,309.20) scale(1,1.07)" text-anchor="end" class="tk">20</text>
<line x1="28.85" y1="286.45" x2="30.95" y2="286.45" stroke="#8a8a8a" stroke-width="0.8"/>
<text transform="translate(26.05,290.25) scale(1,1.07)" text-anchor="end" class="tk">25</text>
<line x1="28.85" y1="267.50" x2="30.95" y2="267.50" stroke="#8a8a8a" stroke-width="0.8"/>
<text transform="translate(26.05,271.30) scale(1,1.07)" text-anchor="end" class="tk">30</text>
<line x1="28.85" y1="248.55" x2="30.95" y2="248.55" stroke="#8a8a8a" stroke-width="0.8"/>
<text transform="translate(26.05,252.35) scale(1,1.07)" text-anchor="end" class="tk">35</text>
<line x1="28.85" y1="229.60" x2="30.95" y2="229.60" stroke="#8a8a8a" stroke-width="0.8"/>
<text transform="translate(26.05,233.40) scale(1,1.07)" text-anchor="end" class="tk">40</text>
<line x1="29.00" y1="305.40" x2="29.00" y2="303.20" stroke="#8a8a8a" stroke-width="0.8"/>
<text transform="translate(29.00,318.20) scale(1,1.07)" text-anchor="middle" class="tk">0</text>
<line x1="69.80" y1="305.40" x2="69.80" y2="303.20" stroke="#8a8a8a" stroke-width="0.8"/>
<text transform="translate(69.80,318.20) scale(1,1.07)" text-anchor="middle" class="tk">24</text>
<line x1="110.60" y1="305.40" x2="110.60" y2="303.20" stroke="#8a8a8a" stroke-width="0.8"/>
<text transform="translate(110.60,318.20) scale(1,1.07)" text-anchor="middle" class="tk">48</text>
<line x1="151.40" y1="305.40" x2="151.40" y2="303.20" stroke="#8a8a8a" stroke-width="0.8"/>
<text transform="translate(151.40,318.20) scale(1,1.07)" text-anchor="middle" class="tk">72</text>
<line x1="192.20" y1="305.40" x2="192.20" y2="303.20" stroke="#8a8a8a" stroke-width="0.8"/>
<text transform="translate(192.20,318.20) scale(1,1.07)" text-anchor="middle" class="tk">96</text>
<line x1="233.00" y1="305.40" x2="233.00" y2="303.20" stroke="#8a8a8a" stroke-width="0.8"/>
<text transform="translate(233.00,318.20) scale(1,1.07)" text-anchor="middle" class="tk">120</text>
<text transform="translate(131.30,330.80) scale(1,1.07)" text-anchor="middle" class="lab">Time (h)</text>
<path d="M333.20,229.60 L333.20,305.50 L537.45,305.50" fill="none" stroke="#b4b4b4" stroke-width="1.05"/>
<line x1="333.20" y1="305.40" x2="335.30" y2="305.40" stroke="#8a8a8a" stroke-width="0.8"/>
<text transform="translate(330.40,309.20) scale(1,1.07)" text-anchor="end" class="tk">20</text>
<line x1="333.20" y1="286.45" x2="335.30" y2="286.45" stroke="#8a8a8a" stroke-width="0.8"/>
<text transform="translate(330.40,290.25) scale(1,1.07)" text-anchor="end" class="tk">25</text>
<line x1="333.20" y1="267.50" x2="335.30" y2="267.50" stroke="#8a8a8a" stroke-width="0.8"/>
<text transform="translate(330.40,271.30) scale(1,1.07)" text-anchor="end" class="tk">30</text>
<line x1="333.20" y1="248.55" x2="335.30" y2="248.55" stroke="#8a8a8a" stroke-width="0.8"/>
<text transform="translate(330.40,252.35) scale(1,1.07)" text-anchor="end" class="tk">35</text>
<line x1="333.20" y1="229.60" x2="335.30" y2="229.60" stroke="#8a8a8a" stroke-width="0.8"/>
<text transform="translate(330.40,233.40) scale(1,1.07)" text-anchor="end" class="tk">40</text>
<line x1="332.75" y1="305.40" x2="332.75" y2="303.20" stroke="#8a8a8a" stroke-width="0.8"/>
<text transform="translate(332.75,318.20) scale(1,1.07)" text-anchor="middle" class="tk">0</text>
<line x1="373.69" y1="305.40" x2="373.69" y2="303.20" stroke="#8a8a8a" stroke-width="0.8"/>
<text transform="translate(373.69,318.20) scale(1,1.07)" text-anchor="middle" class="tk">24</text>
<line x1="414.63" y1="305.40" x2="414.63" y2="303.20" stroke="#8a8a8a" stroke-width="0.8"/>
<text transform="translate(414.63,318.20) scale(1,1.07)" text-anchor="middle" class="tk">48</text>
<line x1="455.57" y1="305.40" x2="455.57" y2="303.20" stroke="#8a8a8a" stroke-width="0.8"/>
<text transform="translate(455.57,318.20) scale(1,1.07)" text-anchor="middle" class="tk">72</text>
<line x1="496.51" y1="305.40" x2="496.51" y2="303.20" stroke="#8a8a8a" stroke-width="0.8"/>
<text transform="translate(496.51,318.20) scale(1,1.07)" text-anchor="middle" class="tk">96</text>
<line x1="537.45" y1="305.40" x2="537.45" y2="303.20" stroke="#8a8a8a" stroke-width="0.8"/>
<text transform="translate(537.45,318.20) scale(1,1.07)" text-anchor="middle" class="tk">120</text>
<text transform="translate(435.40,330.80) scale(1,1.07)" text-anchor="middle" class="lab">Time (h)</text>
<path d="M28.85,399.40 L28.85,474.70 L233.00,474.70" fill="none" stroke="#b4b4b4" stroke-width="1.05"/>
<line x1="28.85" y1="474.60" x2="30.95" y2="474.60" stroke="#8a8a8a" stroke-width="0.8"/>
<text transform="translate(26.05,478.40) scale(1,1.07)" text-anchor="end" class="tk">10</text>
<line x1="28.85" y1="463.86" x2="30.95" y2="463.86" stroke="#8a8a8a" stroke-width="0.8"/>
<text transform="translate(26.05,467.66) scale(1,1.07)" text-anchor="end" class="tk">12</text>
<line x1="28.85" y1="453.11" x2="30.95" y2="453.11" stroke="#8a8a8a" stroke-width="0.8"/>
<text transform="translate(26.05,456.91) scale(1,1.07)" text-anchor="end" class="tk">14</text>
<line x1="28.85" y1="442.37" x2="30.95" y2="442.37" stroke="#8a8a8a" stroke-width="0.8"/>
<text transform="translate(26.05,446.17) scale(1,1.07)" text-anchor="end" class="tk">16</text>
<line x1="28.85" y1="431.63" x2="30.95" y2="431.63" stroke="#8a8a8a" stroke-width="0.8"/>
<text transform="translate(26.05,435.43) scale(1,1.07)" text-anchor="end" class="tk">18</text>
<line x1="28.85" y1="420.89" x2="30.95" y2="420.89" stroke="#8a8a8a" stroke-width="0.8"/>
<text transform="translate(26.05,424.69) scale(1,1.07)" text-anchor="end" class="tk">20</text>
<line x1="28.85" y1="410.14" x2="30.95" y2="410.14" stroke="#8a8a8a" stroke-width="0.8"/>
<text transform="translate(26.05,413.94) scale(1,1.07)" text-anchor="end" class="tk">22</text>
<line x1="28.85" y1="399.40" x2="30.95" y2="399.40" stroke="#8a8a8a" stroke-width="0.8"/>
<text transform="translate(26.05,403.20) scale(1,1.07)" text-anchor="end" class="tk">24</text>
<line x1="29.00" y1="474.60" x2="29.00" y2="472.40" stroke="#8a8a8a" stroke-width="0.8"/>
<text transform="translate(29.00,487.40) scale(1,1.07)" text-anchor="middle" class="tk">0</text>
<line x1="69.80" y1="474.60" x2="69.80" y2="472.40" stroke="#8a8a8a" stroke-width="0.8"/>
<text transform="translate(69.80,487.40) scale(1,1.07)" text-anchor="middle" class="tk">24</text>
<line x1="110.60" y1="474.60" x2="110.60" y2="472.40" stroke="#8a8a8a" stroke-width="0.8"/>
<text transform="translate(110.60,487.40) scale(1,1.07)" text-anchor="middle" class="tk">48</text>
<line x1="151.40" y1="474.60" x2="151.40" y2="472.40" stroke="#8a8a8a" stroke-width="0.8"/>
<text transform="translate(151.40,487.40) scale(1,1.07)" text-anchor="middle" class="tk">72</text>
<line x1="192.20" y1="474.60" x2="192.20" y2="472.40" stroke="#8a8a8a" stroke-width="0.8"/>
<text transform="translate(192.20,487.40) scale(1,1.07)" text-anchor="middle" class="tk">96</text>
<line x1="233.00" y1="474.60" x2="233.00" y2="472.40" stroke="#8a8a8a" stroke-width="0.8"/>
<text transform="translate(233.00,487.40) scale(1,1.07)" text-anchor="middle" class="tk">120</text>
<text transform="translate(131.30,500.00) scale(1,1.07)" text-anchor="middle" class="lab">Time (h)</text>
<path d="M333.20,399.40 L333.20,474.70 L537.45,474.70" fill="none" stroke="#b4b4b4" stroke-width="1.05"/>
<line x1="333.20" y1="474.60" x2="335.30" y2="474.60" stroke="#8a8a8a" stroke-width="0.8"/>
<text transform="translate(330.40,478.40) scale(1,1.07)" text-anchor="end" class="tk">10</text>
<line x1="333.20" y1="463.86" x2="335.30" y2="463.86" stroke="#8a8a8a" stroke-width="0.8"/>
<text transform="translate(330.40,467.66) scale(1,1.07)" text-anchor="end" class="tk">12</text>
<line x1="333.20" y1="453.11" x2="335.30" y2="453.11" stroke="#8a8a8a" stroke-width="0.8"/>
<text transform="translate(330.40,456.91) scale(1,1.07)" text-anchor="end" class="tk">14</text>
<line x1="333.20" y1="442.37" x2="335.30" y2="442.37" stroke="#8a8a8a" stroke-width="0.8"/>
<text transform="translate(330.40,446.17) scale(1,1.07)" text-anchor="end" class="tk">16</text>
<line x1="333.20" y1="431.63" x2="335.30" y2="431.63" stroke="#8a8a8a" stroke-width="0.8"/>
<text transform="translate(330.40,435.43) scale(1,1.07)" text-anchor="end" class="tk">18</text>
<line x1="333.20" y1="420.89" x2="335.30" y2="420.89" stroke="#8a8a8a" stroke-width="0.8"/>
<text transform="translate(330.40,424.69) scale(1,1.07)" text-anchor="end" class="tk">20</text>
<line x1="333.20" y1="410.14" x2="335.30" y2="410.14" stroke="#8a8a8a" stroke-width="0.8"/>
<text transform="translate(330.40,413.94) scale(1,1.07)" text-anchor="end" class="tk">22</text>
<line x1="333.20" y1="399.40" x2="335.30" y2="399.40" stroke="#8a8a8a" stroke-width="0.8"/>
<text transform="translate(330.40,403.20) scale(1,1.07)" text-anchor="end" class="tk">24</text>
<line x1="332.75" y1="474.60" x2="332.75" y2="472.40" stroke="#8a8a8a" stroke-width="0.8"/>
<text transform="translate(332.75,487.40) scale(1,1.07)" text-anchor="middle" class="tk">0</text>
<line x1="373.69" y1="474.60" x2="373.69" y2="472.40" stroke="#8a8a8a" stroke-width="0.8"/>
<text transform="translate(373.69,487.40) scale(1,1.07)" text-anchor="middle" class="tk">24</text>
<line x1="414.63" y1="474.60" x2="414.63" y2="472.40" stroke="#8a8a8a" stroke-width="0.8"/>
<text transform="translate(414.63,487.40) scale(1,1.07)" text-anchor="middle" class="tk">48</text>
<line x1="455.57" y1="474.60" x2="455.57" y2="472.40" stroke="#8a8a8a" stroke-width="0.8"/>
<text transform="translate(455.57,487.40) scale(1,1.07)" text-anchor="middle" class="tk">72</text>
<line x1="496.51" y1="474.60" x2="496.51" y2="472.40" stroke="#8a8a8a" stroke-width="0.8"/>
<text transform="translate(496.51,487.40) scale(1,1.07)" text-anchor="middle" class="tk">96</text>
<line x1="537.45" y1="474.60" x2="537.45" y2="472.40" stroke="#8a8a8a" stroke-width="0.8"/>
<text transform="translate(537.45,487.40) scale(1,1.07)" text-anchor="middle" class="tk">120</text>
<text transform="translate(435.40,500.00) scale(1,1.07)" text-anchor="middle" class="lab">Time (h)</text>
<text transform="translate(278.50,183.40) scale(1,1.07)" text-anchor="middle" class="pl">(<tspan font-weight="bold">a</tspan>)</text>
<text transform="translate(278.50,352.90) scale(1,1.07)" text-anchor="middle" class="pl">(<tspan font-weight="bold">b</tspan>)</text>
<text transform="translate(278.50,522.30) scale(1,1.07)" text-anchor="middle" class="pl">(<tspan font-weight="bold">c</tspan>)</text>
</svg></div></body></html>
